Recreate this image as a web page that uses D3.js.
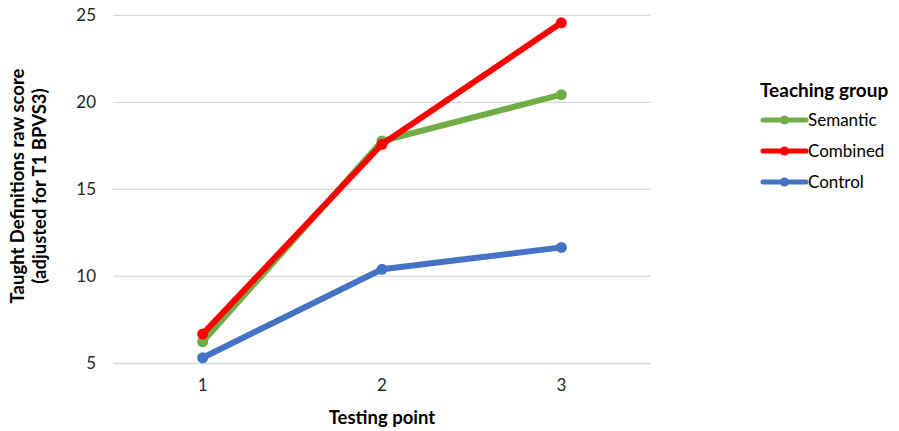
<!DOCTYPE html>
<html><head><meta charset="utf-8">
<script src="https://cdn.jsdelivr.net/npm/d3@7"></script>
<style>body{margin:0;background:#fff}text{font-family:Lato,"Open Sans",sans-serif}</style>
</head><body><svg id="c" width="899" height="431"></svg>
<script>
const categories = ["1","2","3"];
const seriesNames = ["Semantic","Combined","Control"];
const semantic = [6.25, 17.78, 20.44];
const combined = [6.69, 17.59, 24.57];
const control = [5.33, 10.41, 11.67];
const colors = ["#70AD47","#FF0000","#4472C4"];
const yTicks = [5,10,15,20,25];
const series = [semantic, combined, control];

const svg = d3.select("#c");
const x = d3.scaleBand().domain(categories).range([113,651]);
const y = d3.scaleLinear().domain([5,25]).range([363.5,15.3]);

svg.append("g").selectAll("line").data(yTicks).join("line")
  .attr("x1",113).attr("x2",651).attr("y1",d=>y(d)).attr("y2",d=>y(d))
  .attr("stroke","#d9d9d9").attr("stroke-width",1.3);

const yAxis = svg.append("g").attr("transform","translate(96,0)")
  .call(d3.axisLeft(y).tickValues(yTicks).tickSize(0).tickPadding(0));
yAxis.select(".domain").remove();
yAxis.selectAll("text").attr("font-size",17).attr("fill","#262626").attr("font-family","Lato,'Open Sans',sans-serif");

const xAxis = svg.append("g").attr("transform","translate(0,379)")
  .call(d3.axisBottom(x).tickSize(0).tickPadding(0));
xAxis.select(".domain").remove();
xAxis.selectAll("text").attr("font-size",17).attr("fill","#262626").attr("font-family","Lato,'Open Sans',sans-serif");

const line = d3.line().x((d,i)=>x(categories[i])+x.bandwidth()/2).y(d=>y(d));
[2,0,1].forEach(k=>{
  const g = svg.append("g");
  g.append("path").attr("d",line(series[k])).attr("fill","none")
    .attr("stroke",colors[k]).attr("stroke-width",6).attr("stroke-linejoin","round");
  g.selectAll("circle").data(series[k]).join("circle")
    .attr("cx",(d,i)=>x(categories[i])+x.bandwidth()/2).attr("cy",d=>y(d))
    .attr("r",5.5).attr("fill",colors[k]);
});

svg.append("text").attr("x",382).attr("y",424).attr("text-anchor","middle")
  .attr("font-size",18.5).attr("font-weight","bold").attr("fill","#000").text("Testing point");
const yt = svg.append("text").attr("transform","translate(0,186) rotate(-90)")
  .attr("text-anchor","middle").attr("font-size",18.5).attr("font-weight","bold");
yt.append("tspan").attr("x",0).attr("y",24).text("Taught Definitions raw score");
yt.append("tspan").attr("x",0).attr("y",46).text("(adjusted for T1 BPVS3)");

const lg = svg.append("g");
lg.append("text").attr("x",760).attr("y",97).attr("font-size",19).attr("font-weight","bold").text("Teaching group");
seriesNames.forEach((n,i)=>{
  const yy = 120 + i*31;
  lg.append("line").attr("x1",763).attr("x2",806).attr("y1",yy).attr("y2",yy)
    .attr("stroke",colors[i]).attr("stroke-width",5).attr("stroke-linecap","round");
  lg.append("circle").attr("cx",784.5).attr("cy",yy).attr("r",4.5).attr("fill",colors[i]);
  lg.append("text").attr("x",808).attr("y",yy+6).attr("font-size",17).text(n);
});
</script></body></html>
